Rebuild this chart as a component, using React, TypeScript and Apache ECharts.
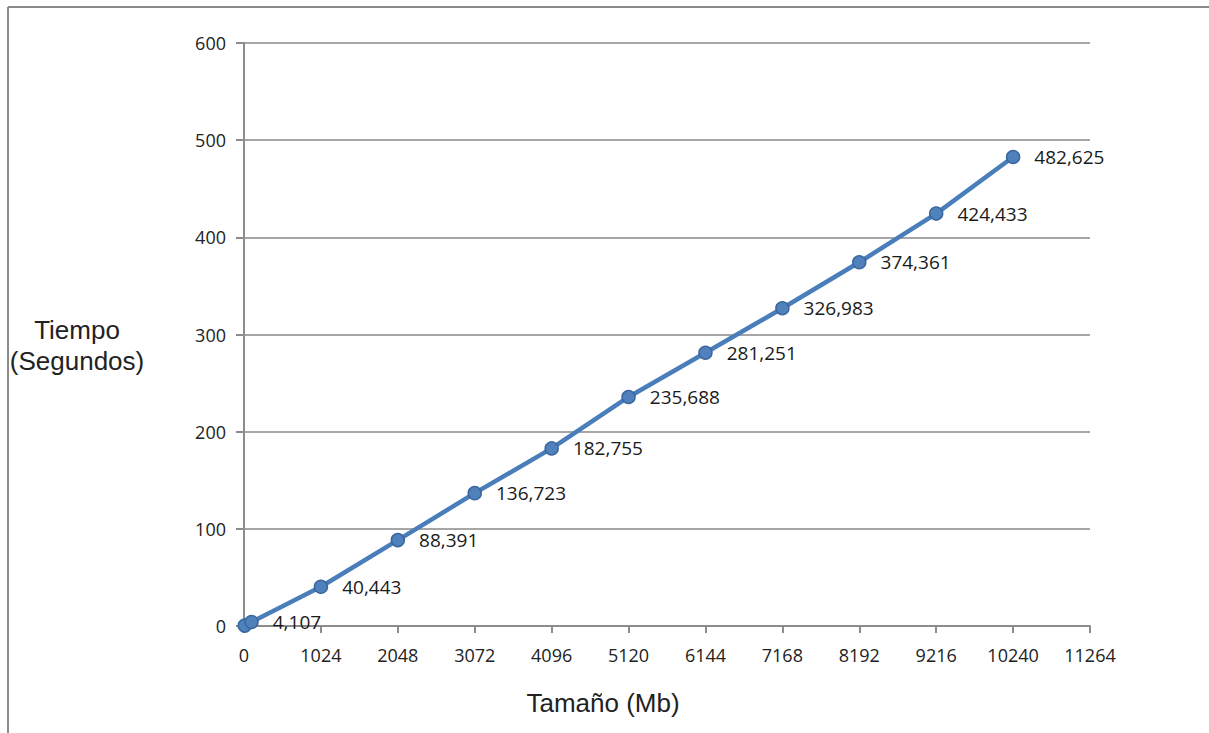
import React, { useEffect, useRef } from "react";
import * as echarts from "echarts";

const sizesMb = [10, 100, 1024, 2048, 3072, 4096, 5120, 6144, 7168, 8192, 9216, 10240];
const timesSec = [0.4, 4.107, 40.443, 88.391, 136.723, 182.755, 235.688, 281.251, 326.983, 374.361, 424.433, 482.625];
const showLabel = [false, true, true, true, true, true, true, true, true, true, true, true];

const xTitle = "Tamaño (Mb)";
const yTitle = "Tiempo\n(Segundos)";

export default function App() {
  const ref = useRef<HTMLDivElement>(null);
  useEffect(() => {
    if (!ref.current) return;
    const chart = echarts.init(ref.current, undefined, { renderer: "svg" });
    const data = sizesMb.map((x, i) => ({
      value: [x, timesSec[i]],
      label: { show: showLabel[i] },
    }));
    const titleFont = { fontFamily: "Liberation Sans", fontSize: 26, fill: "#222" };
    chart.setOption({
      animation: false,
      backgroundColor: "#ffffff",
      grid: { left: 244, right: 119, top: 43, bottom: 107, containLabel: false },
      graphic: [
        { type: "line", shape: { x1: 8, y1: 7, x2: 8, y2: 733 }, style: { stroke: "#8a8a8a", lineWidth: 2 } },
        { type: "line", shape: { x1: 8, y1: 7, x2: 1209, y2: 7 }, style: { stroke: "#8a8a8a", lineWidth: 2 } },
        {
          type: "text",
          x: 77,
          y: 345,
          style: { ...titleFont, text: yTitle, align: "center", verticalAlign: "middle", lineHeight: 31 },
        },
        {
          type: "text",
          x: 603,
          y: 703,
          style: { ...titleFont, text: xTitle, align: "center", verticalAlign: "middle" },
        },
      ],
      xAxis: {
        type: "value",
        min: 0,
        max: 11264,
        interval: 1024,
        axisLine: { show: true, lineStyle: { color: "#8c8c8c", width: 2 } },
        axisTick: { show: true, length: 7, lineStyle: { color: "#8c8c8c", width: 2 } },
        axisLabel: {
          fontFamily: "Open Sans",
          fontSize: 18,
          color: "#222",
          margin: 20,
          formatter: (v: number) => String(v),
        },
        splitLine: { show: false },
      },
      yAxis: {
        type: "value",
        min: 0,
        max: 600,
        interval: 100,
        axisLine: { show: true, lineStyle: { color: "#8c8c8c", width: 2 } },
        axisTick: { show: true, length: 8, lineStyle: { color: "#8c8c8c", width: 2 } },
        axisLabel: { fontFamily: "Open Sans", fontSize: 18, color: "#222", margin: 18 },
        splitLine: { show: true, lineStyle: { color: "#a6a6a6", width: 2 } },
      },
      series: [
        {
          type: "line",
          data,
          symbol: "circle",
          symbolSize: 13,
          lineStyle: { color: "#4a7ebb", width: 4.5 },
          itemStyle: { color: "#4f81bd", borderColor: "#3a679e", borderWidth: 1.5 },
          label: {
            show: true,
            position: "right",
            distance: 14,
            fontFamily: "Open Sans",
            fontSize: 19,
            color: "#1a1a1a",
            formatter: (p: any) => String(p.value[1]).replace(".", ","),
          },
        },
      ],
    });
    return () => chart.dispose();
  }, []);
  return <div ref={ref} style={{ position: "absolute", left: 0, top: 0, width: 1209, height: 733 }} />;
}
